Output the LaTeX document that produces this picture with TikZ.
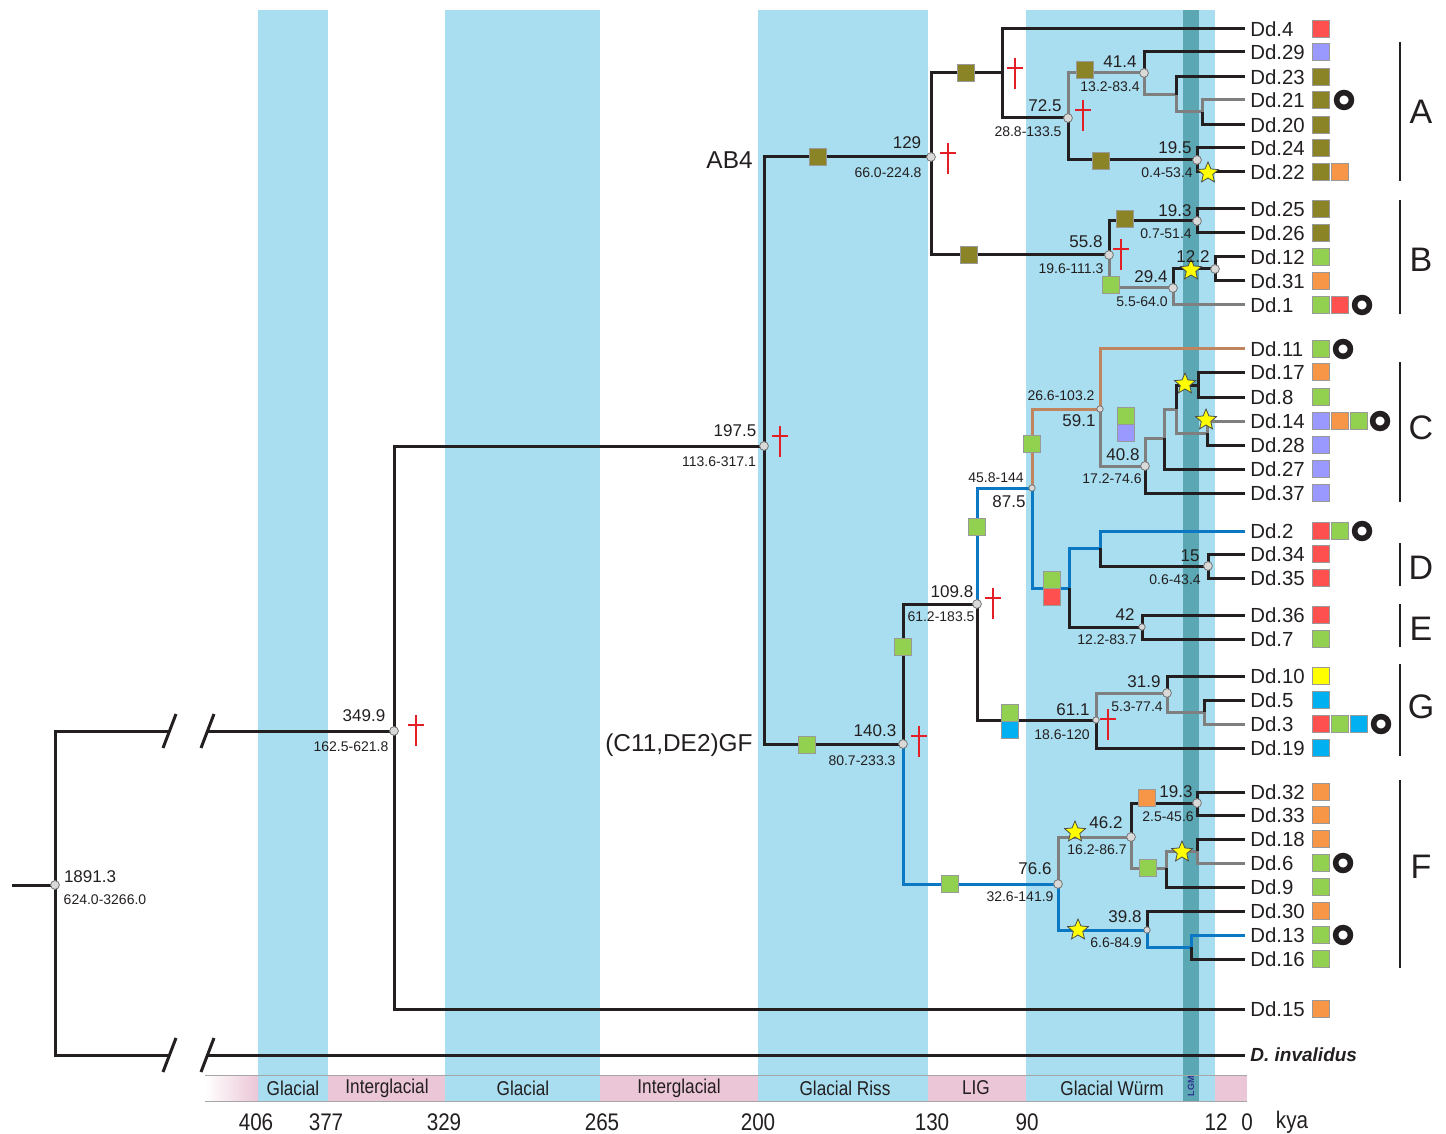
\documentclass[tikz,border=0pt]{standalone}
\usepackage{fontspec}
\setmainfont{Liberation Sans}
\newfontfamily\narrowfont[FakeStretch=0.86]{Liberation Sans}
\usetikzlibrary{shapes.geometric}
\definecolor{treeblack}{HTML}{231F20}
\definecolor{treegray}{HTML}{7F7F7F}
\definecolor{treeblue}{HTML}{0A78C2}
\definecolor{treebrown}{HTML}{C0845F}
\definecolor{colive}{HTML}{8B8427}
\definecolor{cgreen}{HTML}{92D050}
\definecolor{cred}{HTML}{FF5050}
\definecolor{corange}{HTML}{F79646}
\definecolor{cpurple}{HTML}{9999FF}
\definecolor{cyellow}{HTML}{FFFF00}
\definecolor{ccyan}{HTML}{00B0F0}
\definecolor{daggerred}{HTML}{E31E24}
\definecolor{glacblue}{HTML}{A8DEEF}
\definecolor{lgmteal}{HTML}{5BA8B4}
\definecolor{pinkbar}{HTML}{EBC6D6}
\definecolor{lgmtext}{HTML}{2E3192}
\tikzset{
  blk/.style={draw=treeblack, line width=1.5pt},
  gry/.style={draw=treegray, line width=1.5pt},
  blu/.style={draw=treeblue, line width=1.5pt},
  brn/.style={draw=treebrown, line width=1.5pt},
  tip/.style={anchor=west, inner sep=2.5pt, text=treeblack, font=\fontsize{10.2}{12}\selectfont},
  age/.style={inner sep=0pt, text=treeblack, font=\fontsize{8.5}{10}\selectfont},
  ci/.style={inner sep=0pt, text=treeblack, font=\fontsize{7}{8}\selectfont},
  big/.style={inner sep=0pt, text=treeblack, font=\fontsize{12.2}{14}\selectfont},
  clade/.style={inner sep=0pt, text=treeblack, font=\fontsize{17}{19}\selectfont},
  sq/.style={draw=black!40, line width=0.4pt, minimum size=8.5pt, inner sep=0pt},
  ring/.style={circle, draw=treeblack, line width=2.8pt, minimum size=7.4pt, inner sep=0pt},
  starmark/.style={star, star points=5, star point ratio=2.2, fill=cyellow, draw=black!70, line width=0.4pt, minimum size=11pt, inner sep=0pt},
  dot/.style={fill=black!15, draw=black!55, line width=0.4pt},
  dagline/.style={draw=daggerred, line width=1pt},
  cross/.pic={\draw[dagline] (0,0) -- (0,31) (-8,10) -- (8,10);},
  bracket/.style={draw=treeblack, line width=1.3pt},
  barline/.style={draw=black!35, line width=0.5pt},
  period/.style={inner sep=0pt, text=treeblack, font=\narrowfont\fontsize{10}{12}\selectfont},
  axislab/.style={inner sep=0pt, text=treeblack, font=\narrowfont\fontsize{12}{14}\selectfont}
}
\begin{document}
\begin{tikzpicture}[x=0.5pt,y=-0.5pt]
  \useasboundingbox (0,0) rectangle (1446,1134);
  % climate periods
  \foreach \a/\b in {258/328, 445/600, 758/928, 1026/1215}
    \fill[glacblue] (\a,10) rectangle (\b,1101);
  \fill[lgmteal] (1183,10) rectangle (1199,1101);
  \shade[left color=white, right color=pinkbar] (205,1075) rectangle (258,1101);
  \foreach \a/\b in {328/445, 600/758, 928/1026, 1215/1247}
    \fill[pinkbar] (\a,1075) rectangle (\b,1101);
  \draw[barline] (205,1075) -- (1247,1075) (205,1101) -- (1247,1101);
  \foreach \xx/\txt in {293/Glacial, 387/Interglacial, 523/Glacial, 679/Interglacial, 845/Glacial Riss, 976/LIG, 1112/Glacial Würm}
    \node[period] (p\xx) at (\xx,1088) {\txt};
  \node[inner sep=0pt, rotate=90, text=lgmtext, font=\bfseries\fontsize{4.5}{5}\selectfont] (lgm) at (1191,1086) {LGM};
  \foreach \xx/\txt in {256/406, 326/377, 444/329, 602/265, 758/200, 932/130, 1027/90, 1216/12, 1247/0, 1292/kya}
    \node[axislab] (k\xx) at (\xx,1122) {\txt};

  % tips
  \foreach \nm/\yy in {4/29, 29/52, 23/77, 21/100, 20/125, 24/148, 22/172, 25/209, 26/233, 12/257, 31/281, 1/305,
      11/349, 17/372, 8/397, 14/421, 28/445, 27/469, 37/493, 2/531, 34/554, 35/578, 36/615, 7/639,
      10/676, 5/700, 3/724, 19/748, 32/792, 33/815, 18/839, 6/863, 9/887, 30/911, 13/935, 16/959, 15/1009}
    \node[tip] (t\nm) at (1245,\yy) {Dd.\nm};
  \node[tip, font=\bfseries\itshape\fontsize{9.5}{11}\selectfont] (tinv) at (1245,1055) {D. invalidus};

  % internal nodes
  \coordinate (stub) at (12,885);
  \coordinate (root) at (55,885);
  \coordinate (brk1) at (168,731);
  \coordinate (brk2) at (208,731);
  \coordinate (brk3) at (168,1055);
  \coordinate (brk4) at (208,1055);
  \coordinate (n3499) at (394,731);
  \coordinate (n1975) at (764,446);
  \coordinate (n129) at (931,157);
  \coordinate (c1002) at (1002,73);
  \coordinate (n725) at (1068,118);
  \coordinate (n414) at (1144,73);
  \coordinate (c1176a) at (1176,95);
  \coordinate (c1202) at (1202,112);
  \coordinate (n195) at (1197,160);
  \coordinate (n558) at (1109,255);
  \coordinate (n193a) at (1197,221);
  \coordinate (n294) at (1173,288);
  \coordinate (n122) at (1215,269);
  \coordinate (n1403) at (903,744);
  \coordinate (n1098) at (977,604);
  \coordinate (n875) at (1032,488);
  \coordinate (n591) at (1100,409);
  \coordinate (n408) at (1145,466);
  \coordinate (c1164) at (1164,438);
  \coordinate (c1176) at (1176,409);
  \coordinate (c1198) at (1198,385);
  \coordinate (c1207) at (1207,433);
  \coordinate (c1069) at (1069,588);
  \coordinate (c1100) at (1100,548);
  \coordinate (n15) at (1208,566);
  \coordinate (n42) at (1142,627);
  \coordinate (n611) at (1096,720);
  \coordinate (n319) at (1167,693);
  \coordinate (c1204) at (1204,712);
  \coordinate (n766) at (1058,884);
  \coordinate (n462) at (1131,837);
  \coordinate (n193b) at (1197,803);
  \coordinate (c1166) at (1166,868);
  \coordinate (c1197) at (1197,851);
  \coordinate (n398) at (1147,930);
  \coordinate (c1191) at (1191,947);

  % branches
  \draw[blk] (stub) -- (root);
  \draw[blk] (root) |- (brk1);
  \draw[blk] (brk2) -- (n3499);
  \draw[blk] (root) |- (brk3);
  \draw[blk] (brk4) -- (tinv.west);
  \foreach \bx in {169.5, 207.5} {
    \draw[blk] (\bx-6.5,748) -- (\bx+6.5,714);
    \draw[blk] (\bx-6.5,1072) -- (\bx+6.5,1038);
  }
  \draw[blk] (n3499) |- (n1975);
  \draw[blk] (n3499) |- (t15.west);
  \draw[blk] (n1975) |- (n129);
  \draw[blk] (n1975) |- (n1403);
  \draw[blk] (n129) |- (c1002);
  \draw[blk] (n129) |- (n558);
  \draw[blk] (c1002) |- (t4.west);
  \draw[blk] (c1002) |- (n725);
  \draw[gry] (n725) |- (n414);
  \draw[blk] (n725) |- (n195);
  \draw[blk] (n414) |- (t29.west);
  \draw[gry] (n414) |- (c1176a);
  \draw[blk] (c1176a) |- (t23.west);
  \draw[gry] (c1176a) |- (c1202);
  \draw[gry] (c1202) |- (t21.west);
  \draw[blk] (c1202) |- (t20.west);
  \draw[blk] (n195) |- (t24.west);
  \draw[blk] (n195) |- (t22.west);
  \draw[blk] (n558) |- (n193a);
  \draw[gry] (n558) |- (n294);
  \draw[blk] (n193a) |- (t25.west);
  \draw[blk] (n193a) |- (t26.west);
  \draw[blk] (n294) |- (n122);
  \draw[gry] (n294) |- (t1.west);
  \draw[blk] (n122) |- (t12.west);
  \draw[blk] (n122) |- (t31.west);
  \draw[blk] (n1403) |- (n1098);
  \draw[blu] (n1403) |- (n766);
  \draw[blu] (n1098) |- (n875);
  \draw[blk] (n1098) |- (n611);
  \draw[brn] (n875) |- (n591);
  \draw[blu] (n875) |- (c1069);
  \draw[brn] (n591) |- (t11.west);
  \draw[gry] (n591) |- (n408);
  \draw[gry] (n408) |- (c1164);
  \draw[blk] (n408) |- (t37.west);
  \draw[gry] (c1164) |- (c1176);
  \draw[blk] (c1164) |- (t27.west);
  \draw[blk] (c1176) |- (c1198);
  \draw[gry] (c1176) |- (c1207);
  \draw[blk] (c1198) |- (t17.west);
  \draw[blk] (c1198) |- (t8.west);
  \draw[gry] (c1207) |- (t14.west);
  \draw[blk] (c1207) |- (t28.west);
  \draw[blu] (c1069) |- (c1100);
  \draw[blk] (c1069) |- (n42);
  \draw[blu] (c1100) |- (t2.west);
  \draw[blk] (c1100) |- (n15);
  \draw[blk] (n15) |- (t34.west);
  \draw[blk] (n15) |- (t35.west);
  \draw[blk] (n42) |- (t36.west);
  \draw[blk] (n42) |- (t7.west);
  \draw[gry] (n611) |- (n319);
  \draw[blk] (n611) |- (t19.west);
  \draw[blk] (n319) |- (t10.west);
  \draw[gry] (n319) |- (c1204);
  \draw[blk] (c1204) |- (t5.west);
  \draw[gry] (c1204) |- (t3.west);
  \draw[gry] (n766) |- (n462);
  \draw[blu] (n766) |- (n398);
  \draw[blk] (n462) |- (n193b);
  \draw[gry] (n462) |- (c1166);
  \draw[blk] (n193b) |- (t32.west);
  \draw[blk] (n193b) |- (t33.west);
  \draw[gry] (c1166) |- (c1197);
  \draw[blk] (c1166) |- (t9.west);
  \draw[blk] (c1197) |- (t18.west);
  \draw[gry] (c1197) |- (t6.west);
  \draw[blk] (n398) |- (t30.west);
  \draw[blu] (n398) |- (c1191);
  \draw[blu] (c1191) |- (t13.west);
  \draw[blk] (c1191) |- (t16.west);

  % node dots
  \foreach \p in {root, n3499, n1975, n129, n725, n414, n195, n558, n193a, n294, n122, n1403, n1098, n408, n15, n319, n766, n462, n193b}
    \filldraw[dot] (\p) circle (2.2pt);
  \foreach \p in {n875, n591, n42, n611, n398}
    \filldraw[dot] (\p) circle (1.6pt);

  % ancestral areas on branches
  \node[sq, fill=colive] (b1) at (818,157) {};
  \node[sq, fill=colive] (b2) at (966,73) {};
  \node[sq, fill=colive] (b3) at (1085,70) {};
  \node[sq, fill=colive] (b4) at (1101,161) {};
  \node[sq, fill=colive] (b5) at (969,255) {};
  \node[sq, fill=colive] (b6) at (1125,219) {};
  \node[sq, fill=cgreen] (b7) at (1111,285) {};
  \node[sq, fill=cgreen] (b8) at (807,745) {};
  \node[sq, fill=cgreen] (b9) at (903,647) {};
  \node[sq, fill=cgreen] (b10) at (977,527) {};
  \node[sq, fill=cgreen] (b11) at (1032,444) {};
  \node[sq, fill=cgreen] (b12) at (1126,415.5) {};
  \node[sq, fill=cpurple] (b13) at (1126,432.5) {};
  \node[sq, fill=cgreen] (b14) at (1052,579.5) {};
  \node[sq, fill=cred] (b15) at (1052,596.5) {};
  \node[sq, fill=cgreen] (b16) at (1009.5,712.5) {};
  \node[sq, fill=ccyan] (b17) at (1009.5,729.5) {};
  \node[sq, fill=cgreen] (b18) at (950,884) {};
  \node[sq, fill=corange] (b19) at (1147,798) {};
  \node[sq, fill=cgreen] (b20) at (1148,868) {};

  % stars and daggers
  \foreach \xx/\yy [count=\i] in {1208/173, 1191/270, 1185/384, 1206/420, 1075/832, 1182/852, 1078/930}
    \node[starmark] (s\i) at (\xx,\yy) {};
  \foreach \xx/\yy in {416/715, 780/426, 948/143, 1015/58, 1083/100, 1121/239, 919/726, 993/588, 1108/709}
    \pic at (\xx,\yy) {cross};

  % ages and intervals
  \node[age] (a18913) at (90,877) {1891.3};
  \node[ci] (h18913) at (105,900) {624.0-3266.0};
  \node[age] (a3499) at (364,716) {349.9};
  \node[ci] (h3499) at (351,747) {162.5-621.8};
  \node[age] (a1975) at (735,431) {197.5};
  \node[ci] (h1975) at (719,462) {113.6-317.1};
  \node[age] (a129) at (907,143) {129};
  \node[ci] (h129) at (888,173) {66.0-224.8};
  \node[age] (a725) at (1045,106) {72.5};
  \node[ci] (h725) at (1028,132) {28.8-133.5};
  \node[age] (a414) at (1120,62) {41.4};
  \node[ci] (h414) at (1110,87) {13.2-83.4};
  \node[age] (a195) at (1175,148) {19.5};
  \node[ci] (h195) at (1167,173) {0.4-53.4};
  \node[age] (a193a) at (1175,211) {19.3};
  \node[ci] (h193a) at (1166,234) {0.7-51.4};
  \node[age] (a558) at (1086,242) {55.8};
  \node[ci] (h558) at (1071,269) {19.6-111.3};
  \node[age] (a122) at (1193,257) {12.2};
  \node[age] (a294) at (1151,277) {29.4};
  \node[ci] (h294) at (1142,302) {5.5-64.0};
  \node[ci] (h591) at (1061,396) {26.6-103.2};
  \node[age] (a591) at (1079,421) {59.1};
  \node[age] (a408) at (1123,455) {40.8};
  \node[ci] (h408) at (1112,479) {17.2-74.6};
  \node[ci] (h875) at (996,478) {45.8-144};
  \node[age] (a875) at (1009,502) {87.5};
  \node[age] (a15) at (1190,556) {15};
  \node[ci] (h15) at (1175,580) {0.6-43.4};
  \node[age] (a42) at (1125,615) {42};
  \node[ci] (h42) at (1107,640) {12.2-83.7};
  \node[age] (a1098) at (952,592) {109.8};
  \node[ci] (h1098) at (941,617) {61.2-183.5};
  \node[age] (a319) at (1144,682) {31.9};
  \node[ci] (h319) at (1137,707) {5.3-77.4};
  \node[age] (a611) at (1073,710) {61.1};
  \node[ci] (h611) at (1062,735) {18.6-120};
  \node[age] (a1403) at (875,731) {140.3};
  \node[ci] (h1403) at (862,761) {80.7-233.3};
  \node[age] (a193b) at (1176,792) {19.3};
  \node[ci] (h193b) at (1168,817) {2.5-45.6};
  \node[age] (a462) at (1106,823) {46.2};
  \node[ci] (h462) at (1097,850) {16.2-86.7};
  \node[age] (a766) at (1035,869) {76.6};
  \node[ci] (h766) at (1020,897) {32.6-141.9};
  \node[age] (a398) at (1125,917) {39.8};
  \node[ci] (h398) at (1116,943) {6.6-84.9};
  \node[big, anchor=east] (ab4) at (753,160) {AB4};
  \node[big, anchor=east] (cdgf) at (753,745) {(C11,DE2)GF};

  % areas of the samples
  \foreach \yy/\cols in {29/{cred}, 52/{cpurple}, 77/{colive}, 100/{colive}, 125/{colive}, 148/{colive},
      172/{colive,corange}, 209/{colive}, 233/{colive}, 257/{cgreen}, 281/{corange}, 305/{cgreen,cred},
      349/{cgreen}, 372/{corange}, 397/{cgreen}, 421/{cpurple,corange,cgreen}, 445/{cpurple}, 469/{cpurple},
      493/{cpurple}, 531/{cred,cgreen}, 554/{cred}, 578/{cred}, 615/{cred}, 639/{cgreen}, 676/{cyellow},
      700/{ccyan}, 724/{cred,cgreen,ccyan}, 748/{ccyan}, 792/{corange}, 815/{corange}, 839/{corange},
      863/{cgreen}, 887/{cgreen}, 911/{corange}, 935/{cgreen}, 959/{cgreen}, 1009/{corange}}
    \foreach \c [count=\i from 0] in \cols
      \node[sq, fill=\c] (m\yy-\i) at ({1321+19*\i},\yy) {};
  \foreach \yy/\xx in {100/1344, 305/1362, 349/1343, 421/1380, 531/1362, 724/1381, 863/1343, 935/1343}
    \node[ring] (o\yy) at (\xx,\yy) {};

  % clades
  \foreach \ya/\yb/\lab/\yl in {42/181/A/112, 200/314/B/260, 362/502/C/428, 543/586/D/568, 604/647/E/629, 664/756/G/707, 780/968/F/867} {
    \draw[bracket] (1400,\ya) -- (1400,\yb);
    \node[clade] (cl\lab) at (1421,\yl) {\lab};
  }
\end{tikzpicture}
\end{document}
